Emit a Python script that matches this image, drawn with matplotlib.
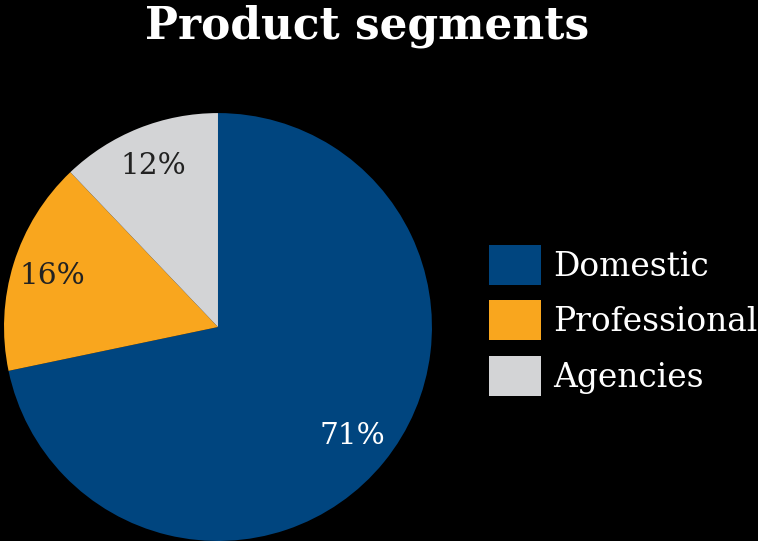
import matplotlib
matplotlib.use('Agg')
import matplotlib.pyplot as plt

segments = ['Domestic', 'Professional', 'Agencies']
shares = [71, 16, 12]
pct_labels = ['71%', '16%', '12%']
colors = ['#00457f', '#f9a61e', '#d3d4d6']
label_colors = ['white', '#222222', '#222222']

plt.rcParams['font.family'] = ['DejaVu Serif']

fig = plt.figure(figsize=(7.58, 5.41), dpi=100, facecolor='black')
ax = fig.add_axes([0.00528, 0.0, 0.5646, 0.791])
ax.set_facecolor('black')

wedges, texts, autotexts = ax.pie(shares, colors=colors, startangle=90, counterclock=False,
                                  autopct=lambda p: '', pctdistance=0.81, radius=1.0)
for t, lab, c in zip(autotexts, pct_labels, label_colors):
    t.set_text(lab)
    t.set_color(c)
    t.set_fontsize(21.3)

ax.set_xlim(-1, 1)
ax.set_ylim(-1, 1)
ax.set_aspect('equal')
ax.axis('off')

fs = 23.7
fpx = fs * 100 / 72
leg = fig.legend(wedges, segments, loc='center left', bbox_to_anchor=(489 / 758, 0.408),
                 frameon=False, fontsize=fs, handlelength=52 / fpx, handleheight=1.494,
                 labelspacing=0.47, handletextpad=12 / fpx, borderaxespad=0, borderpad=0)
for t in leg.get_texts():
    t.set_color('white')

fig.text(367.5 / 758, 1 - 39 / 541, 'Product segments', color='white', fontsize=31.6,
         fontweight='bold', ha='center', va='baseline')

fig.savefig('out.png', dpi=100, facecolor='black')
